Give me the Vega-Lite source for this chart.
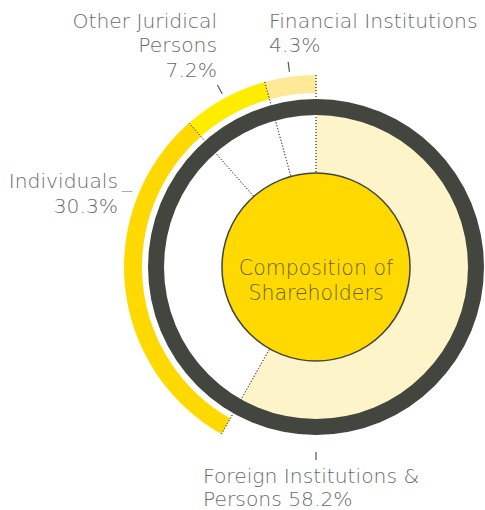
{
  "$schema": "https://vega.github.io/schema/vega-lite/v6.json",
  "width": 336,
  "height": 336,
  "autosize": "none",
  "padding": {"left": 148, "top": 99, "right": 1, "bottom": 75},
  "background": "white",
  "config": {"view": {"stroke": null}, "font": "DejaVu Sans"},
  "data": {
    "values": [
      {"category": "Foreign Institutions & Persons", "value": 58.2, "rank": 1, "label": "Foreign Institutions &\nPersons 58.2%"},
      {"category": "Individuals", "value": 30.3, "rank": 2, "label": "Individuals\n30.3%"},
      {"category": "Other Juridical Persons", "value": 7.2, "rank": 3, "label": "Other Juridical\nPersons\n7.2%"},
      {"category": "Financial Institutions", "value": 4.3, "rank": 4, "label": "Financial Institutions\n4.3%"}
    ]
  },
  "layer": [
    {
      "transform": [
        {"stack": "value", "groupby": [], "sort": [{"field": "rank", "order": "ascending"}], "as": ["start", "end"]},
        {"filter": "datum.rank === 1"}
      ],
      "mark": {"type": "arc", "radius": 156, "radius2": 0, "color": "#FEF4C9"},
      "encoding": {
        "theta": {"field": "start", "type": "quantitative", "scale": {"domain": [0, 100]}},
        "theta2": {"field": "end"}
      }
    },
    {
      "transform": [
        {"stack": "value", "groupby": [], "sort": [{"field": "rank", "order": "ascending"}], "as": ["start", "end"]},
        {"filter": "datum.rank > 1"}
      ],
      "mark": {"type": "arc", "radius": 192, "radius2": 174},
      "encoding": {
        "theta": {"field": "start", "type": "quantitative", "scale": {"domain": [0, 100]}},
        "theta2": {"field": "end"},
        "color": {
          "field": "category",
          "type": "nominal",
          "scale": {"domain": ["Individuals", "Other Juridical Persons", "Financial Institutions"], "range": ["#FFD900", "#FFED00", "#FEE996"]},
          "legend": null
        }
      }
    },
    {
      "transform": [{"aggregate": [{"op": "sum", "field": "value", "as": "total"}]}],
      "mark": {"type": "arc", "radius": 168, "radius2": 152, "color": "#42463E"},
      "encoding": {
        "theta": {"field": "total", "type": "quantitative", "stack": true, "scale": {"domain": [0, 100]}}
      }
    },
    {
      "transform": [
        {"stack": "value", "groupby": [], "sort": [{"field": "rank", "order": "ascending"}], "as": ["start", "end"]}
      ],
      "mark": {"type": "arc", "radius": 192, "radius2": 94, "filled": false, "stroke": "#4a4a4a", "strokeWidth": 1, "strokeDash": [1, 2]},
      "encoding": {
        "theta": {"field": "start", "type": "quantitative", "scale": {"domain": [0, 100]}},
        "theta2": {"field": "start"}
      }
    },
    {
      "transform": [{"aggregate": [{"op": "sum", "field": "value", "as": "total"}]}],
      "mark": {"type": "arc", "radius": 94, "radius2": 0, "fill": "#FFD900", "stroke": "#42463E", "strokeWidth": 1.5},
      "encoding": {
        "theta": {"field": "total", "type": "quantitative", "stack": true, "scale": {"domain": [0, 100]}}
      }
    },
    {
      "data": {"values": [{"title": "Composition of\nShareholders"}]},
      "mark": {"type": "text", "align": "center", "baseline": "middle", "lineBreak": "\n", "lineHeight": 25, "fontSize": 20.5, "fontWeight": 300, "color": "#67622a", "dy": 2},
      "encoding": {"text": {"field": "title", "type": "nominal"}}
    },
    {
      "transform": [
        {"stack": "value", "groupby": [], "sort": [{"field": "rank", "order": "ascending"}], "as": ["start", "end"]},
        {"filter": "datum.rank >= 3"}
      ],
      "mark": {"type": "arc", "radius": 207, "radius2": 197, "padAngle": 3.14, "filled": false, "stroke": "#555555", "strokeWidth": 1.2},
      "encoding": {
        "theta": {"field": "start", "type": "quantitative", "scale": {"domain": [0, 100]}},
        "theta2": {"field": "end"}
      }
    },
    {
      "transform": [{"filter": "datum.rank === 1"}],
      "mark": {"type": "arc", "radius": 193, "radius2": 185, "filled": false, "stroke": "#555555", "strokeWidth": 1.2},
      "encoding": {
        "theta": {"datum": 50, "type": "quantitative", "scale": {"domain": [0, 100]}},
        "theta2": {"datum": 50}
      }
    },
    {
      "mark": {"type": "text", "radius": 215, "align": "left", "baseline": "alphabetic", "dx": -18, "dy": -26, "lineBreak": "\n", "lineHeight": 24.5, "fontSize": 20.3, "fontWeight": 300, "color": "#6a6a6a"},
      "encoding": {
        "theta": {"field": "value", "type": "quantitative", "stack": true, "scale": {"domain": [0, 100]}},
        "order": {"field": "rank", "type": "quantitative"},
        "text": {"condition": {"test": "datum.rank === 4", "field": "label", "type": "nominal"}, "value": ""}
      }
    },
    {
      "mark": {"type": "text", "radius": 212, "align": "right", "baseline": "alphabetic", "dx": 2, "dy": -53, "lineBreak": "\n", "lineHeight": 24.5, "fontSize": 20.3, "fontWeight": 300, "color": "#6a6a6a"},
      "encoding": {
        "theta": {"field": "value", "type": "quantitative", "stack": true, "scale": {"domain": [0, 100]}},
        "order": {"field": "rank", "type": "quantitative"},
        "text": {"condition": {"test": "datum.rank === 3", "field": "label", "type": "nominal"}, "value": ""}
      }
    },
    {
      "mark": {"type": "text", "radius": 200, "align": "right", "baseline": "alphabetic", "dx": 1, "dy": -100, "lineBreak": "\n", "lineHeight": 25, "fontSize": 20.3, "fontWeight": 300, "color": "#6a6a6a"},
      "encoding": {
        "theta": {"field": "value", "type": "quantitative", "stack": true, "scale": {"domain": [0, 100]}},
        "order": {"field": "rank", "type": "quantitative"},
        "text": {"condition": {"test": "datum.rank === 2", "field": "label", "type": "nominal"}, "value": ""}
      }
    },
    {
      "mark": {"type": "text", "radius": 200, "align": "left", "baseline": "alphabetic", "dx": 5, "dy": -101, "fontSize": 20.3, "fontWeight": 300, "color": "#6a6a6a"},
      "encoding": {
        "theta": {"field": "value", "type": "quantitative", "stack": true, "scale": {"domain": [0, 100]}},
        "order": {"field": "rank", "type": "quantitative"},
        "text": {"condition": {"test": "datum.rank === 2", "value": "_"}, "value": ""}
      }
    },
    {
      "transform": [{"filter": "datum.rank === 1"}],
      "mark": {"type": "text", "radius": 200, "align": "left", "baseline": "alphabetic", "dx": -113, "dy": 16, "lineBreak": "\n", "lineHeight": 22.5, "fontSize": 20.3, "fontWeight": 300, "color": "#6a6a6a"},
      "encoding": {
        "theta": {"datum": 50, "type": "quantitative", "scale": {"domain": [0, 100]}},
        "text": {"field": "label", "type": "nominal"}
      }
    }
  ]
}
